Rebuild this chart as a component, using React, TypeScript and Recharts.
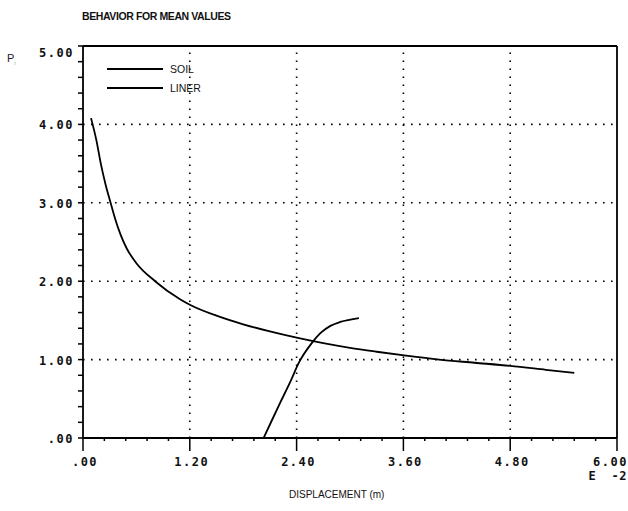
import React from 'react'
import { LineChart, Line, XAxis, YAxis, ReferenceLine } from 'recharts'

// soil curve (displacement in E-2 m, pressure)
const soilX = [0.09, 0.15, 0.2, 0.25, 0.31, 0.36, 0.42, 0.49, 0.6, 0.81, 1.09, 1.2, 1.5, 1.8, 2.1, 2.4, 2.7, 3.0, 3.3, 3.63, 4.0, 4.4, 4.8, 5.2, 5.52]
const soilP = [4.08, 3.8, 3.5, 3.25, 3.0, 2.8, 2.6, 2.42, 2.23, 2.0, 1.77, 1.7, 1.56, 1.45, 1.36, 1.28, 1.21, 1.15, 1.1, 1.05, 1.0, 0.96, 0.92, 0.87, 0.83]

// liner curve
const linerX = [2.03, 2.12, 2.22, 2.33, 2.43, 2.57, 2.67, 2.78, 2.89, 3.1]
const linerP = [0.0, 0.22, 0.46, 0.72, 0.97, 1.21, 1.34, 1.43, 1.48, 1.53]

const xMajor = [0, 1.2, 2.4, 3.6, 4.8, 6.0]
const xLabels = ['.00', '1.20', '2.40', '3.60', '4.80', '6.00']
const yMajor = [0, 1, 2, 3, 4, 5]
const yLabels = ['.00', '1.00', '2.00', '3.00', '4.00', '5.00']
const xGrid = [1.2, 2.4, 3.6, 4.8]
const yGrid = [1, 2, 3, 4]
const seriesNames = ['SOIL', 'LINER']

const soil = soilX.map((x, i) => ({ x, p: soilP[i] }))
const liner = linerX.map((x, i) => ({ x, p: linerP[i] }))

// 5 minor divisions between majors
const xTicks: number[] = []
for (let i = 0; i <= 25; i++) xTicks.push(Math.round(i * 0.24 * 100) / 100)
const yTicks: number[] = []
for (let i = 0; i <= 25; i++) yTicks.push(Math.round(i * 0.2 * 100) / 100)

const tickFont = {
  fontFamily: '"DejaVu Sans Mono", monospace',
  fontWeight: 700,
  fontSize: 12,
  letterSpacing: 1.5,
}
const sans = '"Liberation Sans", Arial, sans-serif'

const XTick = ({ x, y, payload }: any) => {
  const idx = xMajor.findIndex((m) => Math.abs(m - payload.value) < 1e-6)
  const major = idx >= 0
  const last = idx === xMajor.length - 1
  return (
    <g>
      <line x1={x} y1={y} x2={x} y2={y + (major ? 13 : 3)} stroke="#000" strokeWidth={1.5} />
      {major && (
        <text
          x={last ? x + 11 : x + 2}
          y={y + 28}
          textAnchor={last ? 'end' : 'middle'}
          fill="#111"
          style={tickFont}
        >
          {xLabels[idx]}
        </text>
      )}
    </g>
  )
}

const YTick = ({ x, y, payload }: any) => {
  const idx = yMajor.findIndex((m) => Math.abs(m - payload.value) < 1e-6)
  const major = idx >= 0
  const dy = idx === 5 ? 11 : 5
  return (
    <g>
      <line x1={x - 5} y1={y} x2={x} y2={y} stroke="#000" strokeWidth={1.5} />
      {major && (
        <text x={x - 9} y={y + dy} textAnchor="end" fill="#111" style={tickFont}>
          {yLabels[idx]}
        </text>
      )}
    </g>
  )
}

export default function App() {
  return (
    <div style={{ position: 'absolute', left: 0, top: 0, width: 628, height: 511, background: '#fff' }}>
      <LineChart
        width={628}
        height={511}
        margin={{ top: 46, right: 11, bottom: 43, left: 0 }}
        style={{ position: 'absolute', left: 0, top: 0 }}
      >
        <XAxis
          type="number"
          dataKey="x"
          domain={[0, 6]}
          ticks={xTicks}
          interval={0}
          height={30}
          tickSize={0}
          tickMargin={0}
          tickLine={false}
          axisLine={{ stroke: '#000', strokeWidth: 1.8 }}
          tick={<XTick />}
          allowDuplicatedCategory={false}
        />
        <YAxis
          type="number"
          dataKey="p"
          domain={[0, 5]}
          ticks={yTicks}
          interval={0}
          width={83}
          tickSize={0}
          tickMargin={0}
          tickLine={false}
          axisLine={{ stroke: '#000', strokeWidth: 1.8 }}
          tick={<YTick />}
        />
        {xGrid.map((v) => (
          <ReferenceLine key={'gx' + v} x={v} stroke="#000" strokeWidth={1.6} strokeDasharray="1.6 6.4" />
        ))}
        {yGrid.map((v) => (
          <ReferenceLine key={'gy' + v} y={v} stroke="#000" strokeWidth={1.6} strokeDasharray="1.6 6.4" />
        ))}
        <ReferenceLine y={5} stroke="#000" strokeWidth={1.8} />
        <ReferenceLine x={6} stroke="#000" strokeWidth={1.8} />
        <Line
          data={soil}
          dataKey="p"
          name="SOIL"
          type="monotone"
          stroke="#000"
          strokeWidth={1.8}
          dot={false}
          isAnimationActive={false}
        />
        <Line
          data={liner}
          dataKey="p"
          name="LINER"
          type="monotone"
          stroke="#000"
          strokeWidth={1.8}
          dot={false}
          isAnimationActive={false}
        />
      </LineChart>

      {/* title, axis captions and legend as plain text on top */}
      <div
        style={{
          position: 'absolute', left: 82, top: 10,
          fontFamily: sans, fontWeight: 700, fontSize: 10.5, color: '#111', letterSpacing: -0.4,
        }}
      >
        BEHAVIOR FOR MEAN VALUES
      </div>
      <div style={{ position: 'absolute', left: 7, top: 52, fontFamily: sans, fontSize: 11, color: '#222' }}>
        P<sub style={{ fontSize: 6, color: '#999' }}>i</sub>
      </div>
      <div style={{ position: 'absolute', left: 289, top: 489, fontFamily: sans, fontSize: 10, color: '#111' }}>
        DISPLACEMENT (m)
      </div>
      <div
        style={{
          position: 'absolute', right: 1, top: 470, textAlign: 'right',
          ...tickFont, letterSpacing: 0.5, whiteSpace: 'pre', color: '#111', lineHeight: '12px',
        }}
      >
        E  -2
      </div>
      <div style={{ position: 'absolute', left: 107, top: 59, fontFamily: sans, fontSize: 10.5, color: '#111' }}>
        {seriesNames.map((name) => (
          <div key={name} style={{ display: 'flex', alignItems: 'center', height: 19 }}>
            <div style={{ width: 56, height: 0, borderTop: '2px solid #000', marginRight: 7 }} />
            <span>{name}</span>
          </div>
        ))}
      </div>
    </div>
  )
}
